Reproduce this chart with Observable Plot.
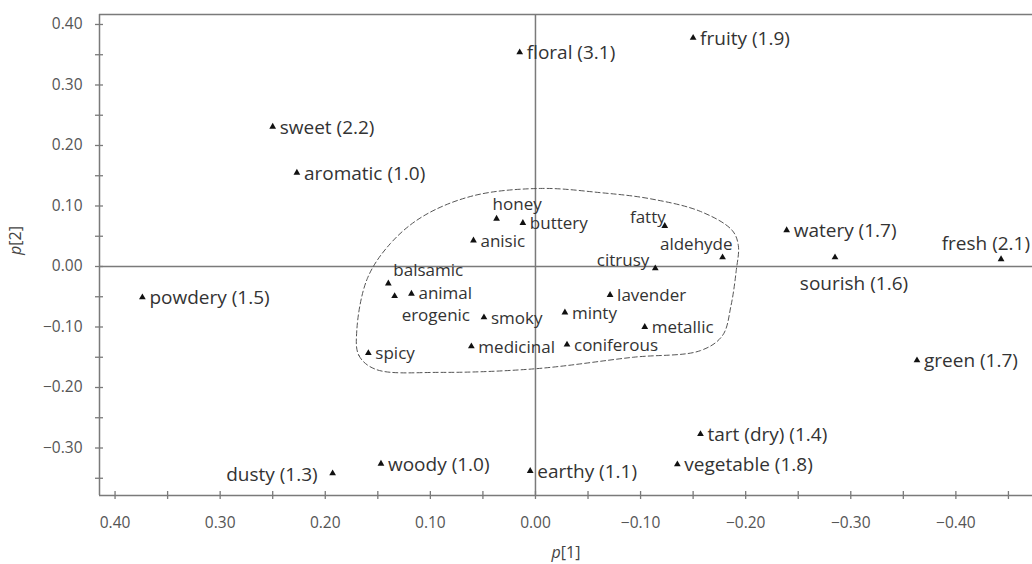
<!DOCTYPE html>
<html>
<head>
<meta charset="utf-8">
<script src="https://cdn.jsdelivr.net/npm/d3@7"></script>
<script src="https://cdn.jsdelivr.net/npm/@observablehq/plot@0.6"></script>
<style>
  html, body { margin: 0; padding: 0; background: #fff; }
  #chart { width: 1032px; height: 564px; }
</style>
</head>
<body>
<div id="chart"></div>
<script>
// ---- data ----
const outerNames = ["floral", "fruity", "sweet", "aromatic", "powdery", "dusty", "woody", "earthy", "vegetable", "tart (dry)", "green", "watery", "sourish", "fresh"];
const outerP1 = [0.015, -0.150, 0.250, 0.227, 0.374, 0.193, 0.147, 0.005, -0.135, -0.157, -0.363, -0.239, -0.285, -0.443];
const outerP2 = [0.354, 0.378, 0.231, 0.155, -0.051, -0.342, -0.326, -0.338, -0.327, -0.277, -0.155, 0.060, 0.015, 0.012];
const outerScore = [3.1, 1.9, 2.2, 1.0, 1.5, 1.3, 1.0, 1.1, 1.8, 1.4, 1.7, 1.7, 1.6, 2.1];

const innerNames = ["honey", "buttery", "anisic", "fatty", "aldehyde", "citrusy", "balsamic", "erogenic", "animal", "lavender", "minty", "smoky", "metallic", "coniferous", "medicinal", "spicy"];
const innerP1 = [0.037, 0.012, 0.059, -0.123, -0.178, -0.114, 0.140, 0.134, 0.118, -0.071, -0.028, 0.049, -0.104, -0.030, 0.061, 0.159];
const innerP2 = [0.079, 0.072, 0.043, 0.067, 0.015, -0.003, -0.028, -0.049, -0.045, -0.047, -0.076, -0.084, -0.100, -0.129, -0.132, -0.143];

// dashed cluster outline (p[1], p[2])
const hullP1 = [0.170, 0.168, 0.152, 0.090, 0.000, -0.093, -0.157, -0.178, -0.186, -0.191, -0.193, -0.187, -0.157, -0.109, -0.062, -0.005, 0.059, 0.107, 0.138, 0.160];
const hullP2 = [-0.106, -0.147, -0.170, -0.175, -0.169, -0.150, -0.139, -0.114, -0.065, -0.007, 0.035, 0.060, 0.091, 0.112, 0.122, 0.129, 0.117, 0.083, 0.038, -0.020];

// axis ticks
const xDomain = [0.4148, -0.4729];
const yDomain = [-0.3785, 0.4165];
const xTickLabels = [0.40, 0.30, 0.20, 0.10, 0.00, -0.10, -0.20, -0.30, -0.40];
const xTickMarks = [0.40, 0.35, 0.30, 0.25, 0.20, 0.15, 0.10, 0.05, 0.00, -0.05, -0.10, -0.15, -0.20, -0.25, -0.30, -0.35, -0.40, -0.45];
const yTickLabels = [0.40, 0.30, 0.20, 0.10, 0.00, -0.10, -0.20, -0.30];
const yTickMarks = [0.40, 0.35, 0.30, 0.25, 0.20, 0.15, 0.10, 0.05, 0.00, -0.05, -0.10, -0.15, -0.20, -0.25, -0.30, -0.35];

// ---- tables built from the arrays ----
const outer = outerNames.map((n, i) => ({name: n, p1: outerP1[i], p2: outerP2[i], label: `${n} (${outerScore[i].toFixed(1)})`, group: "outer"}));
const inner = innerNames.map((n, i) => ({name: n, p1: innerP1[i], p2: innerP2[i], label: n, group: "inner"}));
const hull = hullP1.map((v, i) => ({p1: v, p2: hullP2[i]}));

// label placement (style, not data)
const special = {
  "dusty":    {textAnchor: "end",    dx: -15, dy: 0},
  "fresh":    {textAnchor: "end",    dx: 29,  dy: -16},
  "sourish":  {textAnchor: "middle", dx: 19,  dy: 25},
  "aldehyde": {textAnchor: "end",    dx: 10,  dy: -14},
  "fatty":    {textAnchor: "end",    dx: 1,   dy: -9},
  "citrusy":  {textAnchor: "end",    dx: -6,  dy: -9},
  "balsamic": {textAnchor: "start",  dx: 5,   dy: -14},
  "erogenic": {textAnchor: "start",  dx: 7,   dy: 18},
  "animal":   {textAnchor: "start",  dx: 7,   dy: -1},
  "honey":    {textAnchor: "start",  dx: -4,  dy: -15}
};
const sizes = {outer: 19, inner: 17};
const textColor = "#333";
const axisColor = "#7a7a7a";

const all = outer.concat(inner);
const labelMarks = [];
for (const g of ["outer", "inner"]) {
  labelMarks.push(Plot.text(all.filter(d => d.group === g && !special[d.name]), {
    x: "p1", y: "p2", text: "label", textAnchor: "start", dx: 7, dy: 1,
    fontSize: sizes[g], fill: textColor
  }));
}
for (const [name, opt] of Object.entries(special)) {
  const rows = all.filter(d => d.name === name);
  labelMarks.push(Plot.text(rows, {
    x: "p1", y: "p2", text: "label", textAnchor: opt.textAnchor, dx: opt.dx, dy: opt.dy + 1,
    fontSize: sizes[rows[0].group], fill: textColor
  }));
}

const fmt = d3.format(".2f");
const chart = Plot.plot({
  width: 1032,
  height: 564,
  marginLeft: 99,
  marginRight: 0,
  marginTop: 14,
  marginBottom: 69,
  x: {domain: xDomain},
  y: {domain: yDomain},
  style: {fontFamily: "'Open Sans', sans-serif", background: "#fff", color: textColor},
  marks: [
    // frame lines (left, bottom, top)
    Plot.ruleX([xDomain[0]], {stroke: axisColor, strokeWidth: 1.5}),
    Plot.ruleY([yDomain[0], yDomain[1]], {stroke: axisColor, strokeWidth: 1.5}),
    // zero lines
    Plot.ruleX([0], {stroke: axisColor, strokeWidth: 1.5}),
    Plot.ruleY([0], {stroke: axisColor, strokeWidth: 1.5}),
    // tick marks crossing axes
    Plot.axisX(xTickMarks, {tickSize: 8, dy: -4, tickFormat: () => "", label: null, stroke: axisColor, strokeWidth: 1.3}),
    Plot.axisY(yTickMarks, {tickSize: 8, dx: 4, tickFormat: () => "", label: null, stroke: axisColor, strokeWidth: 1.3}),
    // tick labels
    Plot.axisX(xTickLabels, {tickSize: 0, tickPadding: 21, tickFormat: fmt, label: null, fontSize: 15.5, fill: "#555"}),
    Plot.axisY(yTickLabels, {tickSize: 0, tickPadding: 17, tickFormat: fmt, label: null, fontSize: 15.5, fill: "#555"}),
    // axis titles
    Plot.text(["p[1]"], {frameAnchor: "bottom", dy: 62, text: d => d, fontSize: 16, fill: "#444"}),
    Plot.text(["p[2]"], {frameAnchor: "left", dx: -84, rotate: -90, text: d => d, fontSize: 16, fill: "#444"}),
    // cluster outline
    Plot.line(hull, {x: "p1", y: "p2", curve: "catmull-rom-closed", stroke: "#555", strokeWidth: 1, strokeDasharray: "5,3"}),
    // markers
    Plot.dot(all, {x: "p1", y: "p2", symbol: "triangle", r: 2.5, fill: "#111", stroke: "none"}),
    ...labelMarks
  ]
});
document.getElementById("chart").appendChild(chart);

// italic "p" in axis titles
chart.querySelectorAll("text").forEach(t => {
  const s = t.textContent;
  if (s === "p[1]" || s === "p[2]") {
    t.textContent = "";
    const NS = "http://www.w3.org/2000/svg";
    const a = document.createElementNS(NS, "tspan");
    a.setAttribute("font-style", "italic");
    a.textContent = "p";
    const b = document.createElementNS(NS, "tspan");
    b.textContent = s.slice(1);
    t.appendChild(a);
    t.appendChild(b);
  }
});
</script>
</body>
</html>
